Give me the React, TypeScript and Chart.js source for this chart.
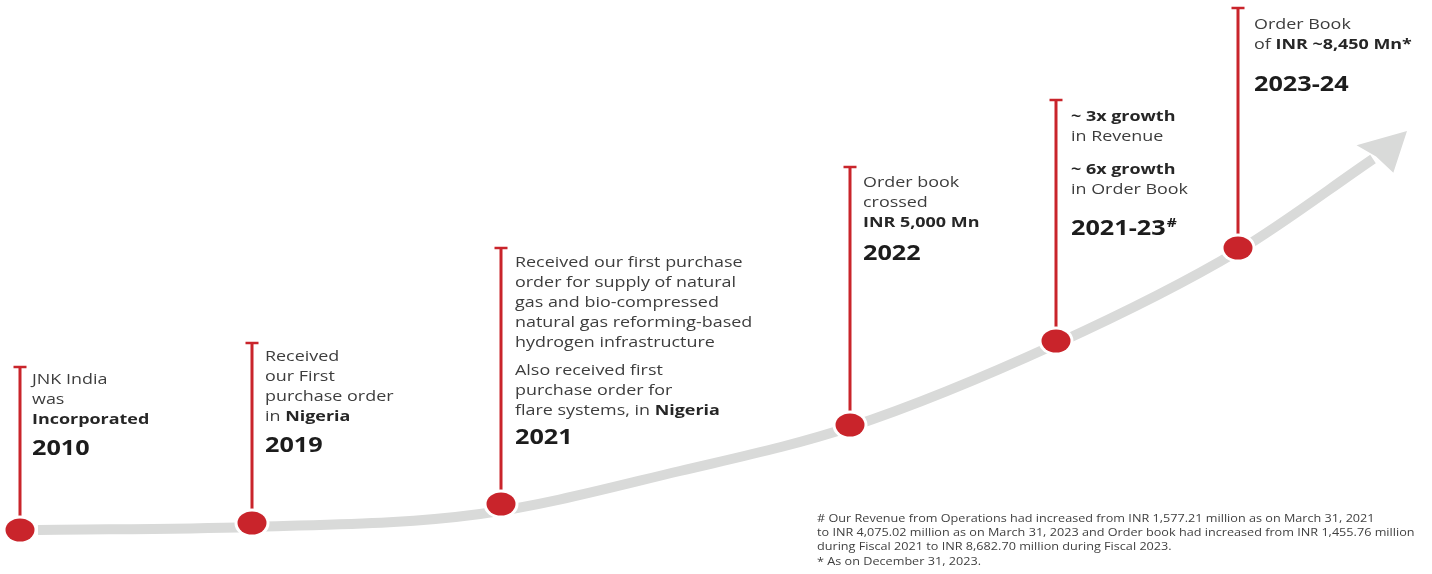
import React, { useEffect, useRef } from "react";
import { Chart, registerables } from "chart.js";
Chart.register(...registerables);

const W = 1432;
const H = 574;

// ---------- data ----------
const years = ["2010", "2019", "2021", "2022", "2021-23", "2023-24"];
const yearSup = ["", "", "", "", "#", ""];
// position of each milestone along the timeline and its growth level
const milestoneX = [20, 252, 501, 850, 1056, 1238];
const milestoneLevel = [44, 51, 70, 149, 233, 326];
const stemTopLevel = [207, 231, 326, 407, 474, 566];
// growth curve
const curveX = [38, 250, 480, 680, 850, 1056, 1238, 1373];
const curveLevel = [44, 47, 60, 103, 147, 230, 323, 415];
const arrowTipX = 1407;
const arrowTipLevel = 443;

// text ("|" toggles bold, "" = paragraph break)
const milestoneLines: string[][] = [
  ["JNK India", "was", "|Incorporated|"],
  ["Received", "our First", "purchase order", "in |Nigeria|"],
  [
    "Received our first purchase",
    "order for supply of natural",
    "gas and bio-compressed",
    "natural gas reforming-based",
    "hydrogen infrastructure",
    "",
    "Also received first",
    "purchase order for",
    "flare systems, in |Nigeria|",
  ],
  ["Order book", "crossed", "|INR 5,000 Mn|"],
  ["|~ 3x growth|", "in Revenue", "", "|~ 6x growth|", "in Order Book"],
  ["Order Book", "of |INR ~8,450 Mn*|"],
];
const footnotes = [
  "# Our Revenue from Operations had increased from INR 1,577.21 million as on March 31, 2021",
  "to INR 4,075.02 million as on March 31, 2023 and Order book had increased from INR 1,455.76 million",
  "during Fiscal 2021 to INR 8,682.70 million during Fiscal 2023.",
  "* As on December 31, 2023.",
];

// ---------- layout / style ----------
const RED = "#c9242b";
const BAND = "#d9dad9";
const TEXT = "#3d3d3d";
const TEXT_BOLD = "#262626";
const YEAR = "#1c1c1c";
const FONT = "'Open Sans', 'Noto Sans', sans-serif";
const SX = 1.28; // horizontal stretch of the artwork's lettering
const textLayout = [
  { dx: 12, first: 13, para: 8, year: 29 },
  { dx: 13, first: 14, para: 8, year: 29 },
  { dx: 14, first: 15, para: 8, year: 27 },
  { dx: 13, first: 16, para: 8, year: 31 },
  { dx: 15, first: 17, para: 13, year: 39 },
  { dx: 16, first: 17, para: 8, year: 40 },
];
// arrow head corners in (along, across) units relative to the curve end
const headCornerA = [7, 23.5];
const headCornerB = [-4, -21];
const headNotch = 4;
const footX = 817;
const footY = [519, 533, 547, 562];

function makeDot(): HTMLCanvasElement {
  const c = document.createElement("canvas");
  c.width = 38;
  c.height = 32;
  const g = c.getContext("2d")!;
  g.beginPath();
  g.ellipse(19, 16, 17.5, 14.5, 0, 0, Math.PI * 2);
  g.fillStyle = "#ffffff";
  g.fill();
  g.beginPath();
  g.ellipse(19, 16, 14.5, 11.5, 0, 0, Math.PI * 2);
  g.fillStyle = RED;
  g.fill();
  return c;
}

function drawRich(
  ctx: CanvasRenderingContext2D,
  x: number,
  y: number,
  line: string,
  size: number,
  sx: number
) {
  const parts = line.split("|");
  ctx.save();
  ctx.translate(x, y);
  ctx.scale(sx, 1);
  ctx.textBaseline = "middle";
  ctx.textAlign = "left";
  let cx = 0;
  parts.forEach((p, i) => {
    if (!p) return;
    const bold = i % 2 === 1;
    ctx.font = `${bold ? 700 : 400} ${size}px ${FONT}`;
    ctx.fillStyle = bold ? TEXT_BOLD : TEXT;
    ctx.fillText(p, cx, 0);
    cx += ctx.measureText(p).width;
  });
  ctx.restore();
}

const textPlugin = {
  id: "milestoneText",
  afterDatasetsDraw(chart: any) {
    const ctx: CanvasRenderingContext2D = chart.ctx;
    const xs = chart.scales.x;
    const ys = chart.scales.y;

    // arrow head
    const bx = xs.getPixelForValue(curveX[curveX.length - 1]);
    const by = ys.getPixelForValue(curveLevel[curveLevel.length - 1]);
    const tx = xs.getPixelForValue(arrowTipX);
    const ty = ys.getPixelForValue(arrowTipLevel);
    const len = Math.hypot(tx - bx, ty - by);
    const ux = (tx - bx) / len;
    const uy = (ty - by) / len;
    const px = -uy;
    const py = ux;
    const pt = (a: number, b: number): [number, number] => [bx + ux * a + px * b, by + uy * a + py * b];
    ctx.save();
    ctx.fillStyle = BAND;
    ctx.beginPath();
    ctx.moveTo(tx, ty);
    ctx.lineTo(...pt(headCornerA[0], headCornerA[1]));
    ctx.lineTo(...pt(headNotch, 0));
    ctx.lineTo(...pt(headCornerB[0], headCornerB[1]));
    ctx.closePath();
    ctx.fill();
    ctx.restore();

    // milestone texts
    milestoneLines.forEach((lines, i) => {
      const L = textLayout[i];
      const x = xs.getPixelForValue(milestoneX[i]) + L.dx;
      let y = ys.getPixelForValue(stemTopLevel[i]) + L.first;
      lines.forEach((ln, j) => {
        if (ln === "") {
          y += L.para;
          return;
        }
        drawRich(ctx, x, y, ln, 14, SX);
        if (j < lines.length - 1) y += 20;
      });
      y += L.year;
      ctx.save();
      ctx.translate(x, y);
      ctx.scale(1.2, 1);
      ctx.textBaseline = "middle";
      ctx.font = `700 21px ${FONT}`;
      ctx.fillStyle = YEAR;
      ctx.fillText(years[i], 0, 0);
      if (yearSup[i]) {
        const w = ctx.measureText(years[i]).width;
        ctx.font = `700 13px ${FONT}`;
        ctx.fillText(yearSup[i], w + 1, -6);
      }
      ctx.restore();
    });

    // footnotes
    footnotes.forEach((t, i) => {
      ctx.save();
      ctx.translate(footX, footY[i]);
      ctx.scale(1.265, 1);
      ctx.textBaseline = "middle";
      ctx.font = `400 10px ${FONT}`;
      ctx.fillStyle = "#3f3f3f";
      ctx.fillText(t, 0, 0);
      ctx.restore();
    });
  },
};

export default function App() {
  const ref = useRef<HTMLCanvasElement>(null);
  useEffect(() => {
    if (!ref.current) return;
    const dot = makeDot();
    const stemData: any[] = [];
    milestoneX.forEach((x, i) => {
      stemData.push({ x, y: milestoneLevel[i] });
      stemData.push({ x, y: stemTopLevel[i] });
      stemData.push({ x, y: null });
    });
    const chart = new Chart(ref.current, {
      type: "scatter",
      data: {
        datasets: [
          {
            label: "milestones",
            data: milestoneX.map((x, i) => ({ x, y: milestoneLevel[i] })),
            pointStyle: dot as any,
            pointRadius: 14,
            showLine: false,
            clip: false as any,
            order: 0,
          },
          {
            label: "caps",
            data: milestoneX.map((x, i) => ({ x, y: stemTopLevel[i] })),
            pointStyle: "line",
            pointRadius: 6.5,
            borderWidth: 2.5,
            borderColor: RED,
            showLine: false,
            clip: false as any,
            order: 1,
          },
          {
            label: "stems",
            data: stemData,
            showLine: true,
            borderColor: RED,
            borderWidth: 3,
            pointRadius: 0,
            spanGaps: false,
            clip: false as any,
            order: 2,
          },
          {
            label: "growth",
            data: curveX.map((x, i) => ({ x, y: curveLevel[i] })),
            showLine: true,
            borderColor: BAND,
            borderWidth: 10,
            pointRadius: 0,
            cubicInterpolationMode: "monotone",
            borderCapStyle: "butt",
            clip: false as any,
            order: 3,
          },
        ] as any,
      },
      options: {
        responsive: false,
        animation: false,
        events: [],
        layout: { padding: 0, autoPadding: false } as any,
        plugins: { legend: { display: false }, tooltip: { enabled: false } },
        scales: {
          x: { type: "linear", min: 0, max: W, display: false },
          y: { type: "linear", min: 0, max: H, display: false },
        },
      },
      plugins: [textPlugin],
    });
    return () => chart.destroy();
  }, []);
  return (
    <div style={{ position: "absolute", left: 0, top: 0, width: W, height: H, background: "#fff" }}>
      <canvas ref={ref} width={W} height={H} style={{ display: "block" }} />
    </div>
  );
}
